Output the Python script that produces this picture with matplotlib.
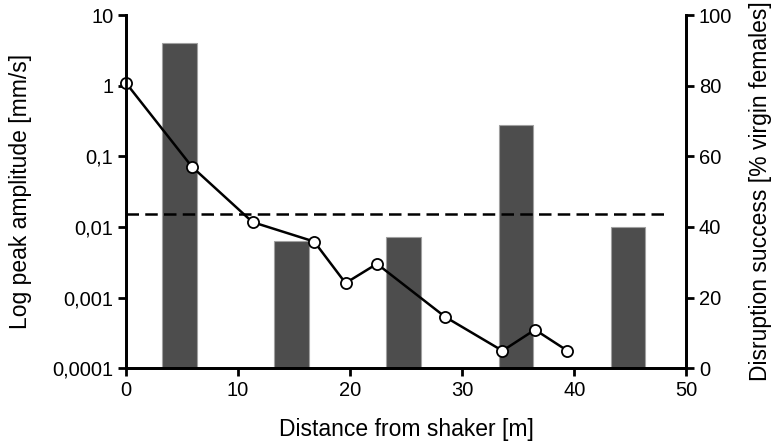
import matplotlib.pyplot as plt
import numpy as np

plt.rcParams['font.family'] = ['Liberation Sans', 'DejaVu Sans']

# peak amplitude measured along the transect
dist = [0, 5.9, 11.3, 16.8, 19.6, 22.4, 28.5, 33.6, 36.5, 39.4]
amp = [1.1, 0.071, 0.0117, 0.0062, 0.0016, 0.0030, 0.00053, 0.000176, 0.00035, 0.000176]

# disruption success per distance class
bar_x = [4.8, 14.8, 24.8, 34.8, 44.8]
success = [92, 36, 37, 69, 40]

threshold = 0.015
threshold_x = [0, 48.1]

left_ticks = [10, 1, 0.1, 0.01, 0.001, 0.0001]
left_labels = ['10', '1', '0,1', '0,01', '0,001', '0,0001']

fig = plt.figure(figsize=(7.72, 4.43), dpi=100)
ax = fig.add_axes([0.163, 0.169, 0.726, 0.797])
ax2 = ax.twinx()

ax2.bar(bar_x, success, width=3.1, color='#4d4d4d', edgecolor='#a0a0a0', linewidth=0.8)
ax2.set_ylim(0, 100)
ax2.set_yticks([0, 20, 40, 60, 80, 100])
ax2.set_ylabel('Disruption success [% virgin females]', fontsize=16.5)
ax2.yaxis.set_label_coords(1.111, 0.5)

ax.set_zorder(ax2.get_zorder() + 1)
ax.patch.set_visible(False)

ax.plot(threshold_x, [threshold, threshold], color='black', lw=1.8, ls=(0, (5, 2.5)))
ax.plot(dist, amp, color='black', lw=1.8, marker='o', ms=8,
        markerfacecolor='white', markeredgecolor='black', markeredgewidth=1.3,
        clip_on=False)

ax.set_yscale('log')
ax.set_ylim(0.0001, 10)
ax.set_yticks(left_ticks)
ax.set_yticklabels(left_labels)
ax.minorticks_off()
ax.set_xlim(0, 50)
ax.set_xticks([0, 10, 20, 30, 40, 50])
ax.set_xlabel('Distance from shaker [m]', fontsize=16.5)
ax.xaxis.set_label_coords(0.5, -0.142)
ax.set_ylabel('Log peak amplitude [mm/s]', fontsize=16.5)
ax.yaxis.set_label_coords(-0.168, 0.5)

for a in (ax, ax2):
    a.spines['top'].set_visible(False)
    for s in ('left', 'right', 'bottom'):
        a.spines[s].set_linewidth(2)
    a.tick_params(width=2, length=6, labelsize=14.5, direction='out', pad=3)

fig.savefig('out.png', dpi=100)
